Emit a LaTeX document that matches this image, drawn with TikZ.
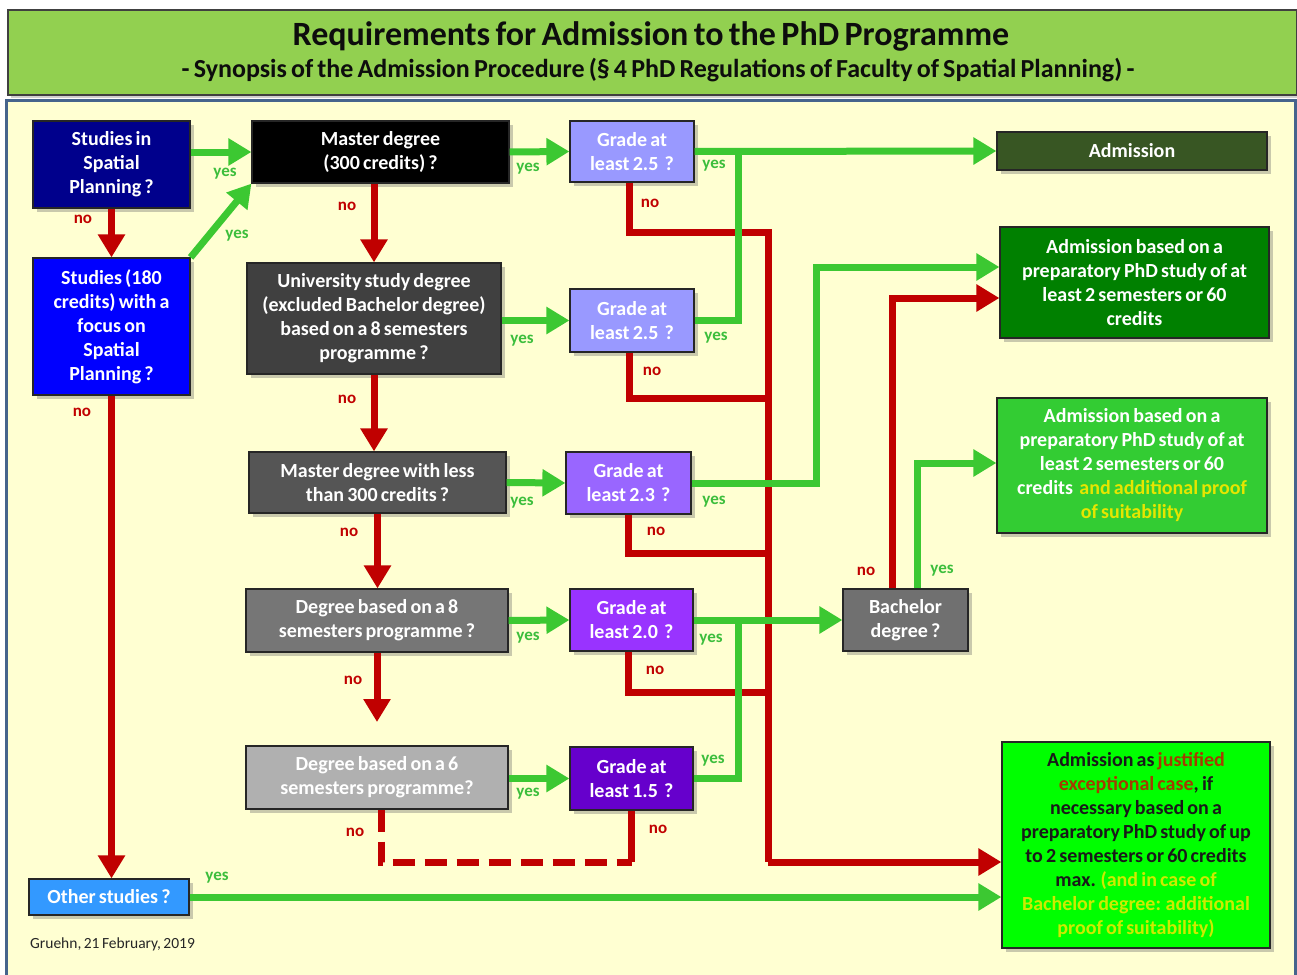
\documentclass[tikz,border=0pt]{standalone}
\usepackage{fontspec}
\setmainfont[WordSpace=0.7]{Carlito}
\usetikzlibrary{arrows.meta,shadows}
\definecolor{panelbg}{RGB}{255,255,210}
\definecolor{panelborder}{RGB}{70,100,140}
\definecolor{titlegreen}{RGB}{146,208,80}
\definecolor{agreen}{RGB}{60,200,50}
\definecolor{ared}{RGB}{192,0,0}
\definecolor{lblgreen}{RGB}{60,190,60}
\definecolor{c-s1}{RGB}{0,0,140}
\definecolor{c-s2}{RGB}{0,0,255}
\definecolor{c-m1}{RGB}{0,0,0}
\definecolor{c-u}{RGB}{64,64,64}
\definecolor{c-m2}{RGB}{85,85,85}
\definecolor{c-d8}{RGB}{118,118,118}
\definecolor{c-d6}{RGB}{176,176,176}
\definecolor{c-g1}{RGB}{153,153,255}
\definecolor{c-g3}{RGB}{153,102,255}
\definecolor{c-g4}{RGB}{153,51,255}
\definecolor{c-g5}{RGB}{102,0,204}
\definecolor{c-adm}{RGB}{56,86,35}
\definecolor{c-a2}{RGB}{0,128,0}
\definecolor{c-a3}{RGB}{51,204,51}
\definecolor{c-a4}{RGB}{0,255,0}
\definecolor{c-bach}{RGB}{112,112,112}
\definecolor{c-oth}{RGB}{51,153,255}
\definecolor{ylw}{RGB}{230,230,0}
\definecolor{ylw2}{RGB}{205,235,0}
\definecolor{jred}{RGB}{165,60,0}
\begin{document}
\begin{tikzpicture}[x=1pt,y=-1pt,
  box/.style={draw=black!85, line width=1.2pt, text=white, align=center,
    inner sep=1pt, font=\fontsize{20}{24}\selectfont\bfseries,
    drop shadow={shadow xshift=4pt, shadow yshift=-4pt, opacity=0.35, fill=black!60}},
  gl/.style={draw=agreen, line width=7pt},
  rl/.style={draw=ared, line width=7pt},
  gar/.style={gl, -{Triangle[length=23pt,width=26pt]}},
  rar/.style={rl, -{Triangle[length=23pt,width=26pt]}},
  yes/.style={text=lblgreen, font=\fontsize{17}{18}\selectfont\bfseries, inner sep=0pt},
  no/.style={text=ared, font=\fontsize{17}{18}\selectfont\bfseries, inner sep=0pt}
]
\useasboundingbox (0,0) rectangle (1297,974);
\begin{scope}
\clip (0,0) rectangle (1297,974);
% panel
\draw[fill=panelbg, draw=panelborder, line width=3pt] (6,100) rectangle (1295,980);
% title bar
\node[draw=black!75, line width=1.2pt, fill=titlegreen, minimum width=1289pt, minimum height=85pt,
  drop shadow={shadow xshift=3pt, shadow yshift=-3pt, opacity=0.3, fill=black!60}] (titlebox) at (652.5,52.5) {};
\end{scope}
\node[text=black!95, font=\fontsize{34}{36}\selectfont\bfseries] (title) at (651,36) {Requirements for Admission to the PhD Programme};
\node[text=black!95, font=\fontsize{26}{28}\selectfont\bfseries] (subtitle) at (658,70) {- Synopsis of the Admission Procedure (§ 4 PhD Regulations of Faculty of Spatial Planning) -};

% nodes
\node[box, fill=c-s1, minimum width=157pt, minimum height=87pt] (s1) at (111.5,164.5) {Studies in\\Spatial\\Planning ?};
\node[box, fill=c-s2, minimum width=157pt, minimum height=137pt] (s2) at (111.5,326.5) {Studies (180\\credits) with a\\focus on\\Spatial\\Planning ?};
\node[box, fill=c-m1, minimum width=257pt, minimum height=62pt] (m1) at (380.5,152) {Master degree\\(300 credits) ?};
\node[box, fill=c-u, minimum width=254pt, minimum height=111pt] (u) at (374,318.5) {University study degree\\(excluded Bachelor degree)\\based on a 8 semesters\\programme ?};
\node[box, fill=c-m2, minimum width=257pt, minimum height=61pt] (m2) at (377.5,482.5) {Master degree with less\\than 300 credits ?};
\node[box, fill=c-d8, minimum width=262pt, minimum height=63pt] (d8) at (377,620.5) {Degree based on a 8\\semesters programme ?};
\node[box, fill=c-d6, minimum width=262pt, minimum height=63pt] (d6) at (377,777.5) {Degree based on a 6\\semesters programme?};
\node[box, fill=c-g1, minimum width=124pt, minimum height=61pt] (g1) at (632,151.5) {Grade at\\least 2.5~~?};
\node[box, fill=c-g1, minimum width=124pt, minimum height=63pt] (g2) at (632,320.5) {Grade at\\least 2.5~~?};
\node[box, fill=c-g3, minimum width=125pt, minimum height=62pt] (g3) at (628.5,483) {Grade at\\least 2.3~~?};
\node[box, fill=c-g4, minimum width=123pt, minimum height=62pt] (g4) at (631.5,620) {Grade at\\least 2.0~~?};
\node[box, fill=c-g5, minimum width=123pt, minimum height=63pt] (g5) at (631.5,778.5) {Grade at\\least 1.5~~?};
\node[box, fill=c-adm, minimum width=270pt, minimum height=38pt] (adm) at (1132,151) {Admission};
\node[box, fill=c-a2, minimum width=269pt, minimum height=111pt] (a2) at (1134.5,282.5) {Admission based on a\\preparatory PhD study of at\\least 2 semesters or 60\\credits};
\node[box, fill=c-a3, minimum width=270pt, minimum height=135pt] (a3) at (1132,465.5) {Admission based on a\\preparatory PhD study of at\\least 2 semesters or 60\\credits~ \textcolor{ylw}{and additional proof}\\\textcolor{ylw}{of suitability}};
\node[box, fill=c-bach, minimum width=125pt, minimum height=62pt] (bach) at (905.5,620) {Bachelor\\degree ?};
\node[box, fill=c-a4, text=black!90, minimum width=268pt, minimum height=206pt] (a4) at (1136,845) {Admission as \textcolor{jred}{justified}\\\textcolor{jred}{exceptional case}, if\\necessary based on a\\preparatory PhD study of up\\to 2 semesters or 60 credits\\max. \textcolor{ylw2}{(and in case of}\\\textcolor{ylw2}{Bachelor degree: additional}\\\textcolor{ylw2}{proof of suitability)}};
\node[box, fill=c-oth, minimum width=160pt, minimum height=36pt] (oth) at (109,897) {Other studies ?};
\node[anchor=west, text=black!85, font=\fontsize{15.5}{17}\selectfont, inner sep=0pt] (foot) at (30,944) {Gruehn, 21 February, 2019};

% junction coordinates
\coordinate (j1) at (738,151.5);
\coordinate (j2) at (738,620);
\coordinate (j3) at (816,267);
\coordinate (j4) at (892,298);
\coordinate (j5) at (917,463);
\coordinate (bt) at (768,232);
\coordinate (b2) at (768,398);
\coordinate (b3) at (768,553);
\coordinate (b4) at (768,692);
\coordinate (bb) at (768,862);
\coordinate (d8end) at (377,722);

% red connectors (drawn first)
\draw[rl] ([xshift=-3pt]g1.south) |- (bt) -- (bb);
\draw[rl] ([xshift=-3pt]g2.south) |- (b2);
\draw[rl] (g3.south) |- (b3);
\draw[rl] ([xshift=-3pt]g4.south) |- (b4);
\draw[rl] (g5.south) -- (g5.south |- bb);
\draw[rl, dash pattern=on 22pt off 10pt] ([xshift=4pt]d6.south) |- (g5.south |- bb);
\draw[rar] (bb) -- (bb -| a4.west);
\draw[rar] (s1.south) -- (s2.north);
\draw[rar] (s2.south) -- (s2.south |- oth.north);
\draw[rar] (u.north |- m1.south) -- (u.north);
\draw[rar] (u.south) -- (u.south |- m2.north);
\draw[rar] (m2.south) -- (m2.south |- d8.north);
\draw[rar] (d8.south) -- (d8end);
\draw[rar] (bach.north -| j4) -- (j4) -- (j4 -| a2.west);

% green connectors
\draw[gar] (s1.east |- m1.west) -- (m1.west);
\draw[gar] (s2.north east) -- (m1.south west);
\draw[gar] (m1.east) -- (g1.west);
\draw[gar] (g1.east) -- (adm.west);
\draw[gl] (g2.east) -| (j1);
\draw[gar] (u.east |- g2.west) -- (g2.west);
\draw[gar] (m2.east) -- (g3.west);
\draw[gar] (g3.east) -| (j3) -- (j3 -| a2.west);
\draw[gar] (d8.east) -- (g4.west);
\draw[gar] (d6.east |- g5.west) -- (g5.west);
\draw[gar] (g4.east) -- (bach.west);
\draw[gl] (g5.east) -| (j2);
\draw[gar] (bach.north -| j5) -- (j5) -- (j5 -| a3.west);
\draw[gar] (oth.east) -- (oth.east -| a4.west);

% labels
\node[yes] (l1) at (225,174) {yes};
\node[no] (l2) at (83,219) {no};
\node[yes] (l3) at (237,236) {yes};
\node[no] (l4) at (82,412) {no};
\node[yes] (l5) at (528,169) {yes};
\node[no] (l6) at (347,206) {no};
\node[yes] (l7) at (714,166) {yes};
\node[no] (l8) at (650,203) {no};
\node[yes] (l9) at (522,341) {yes};
\node[yes] (l10) at (716,338) {yes};
\node[no] (l11) at (652,371) {no};
\node[no] (l12) at (347,399) {no};
\node[yes] (l13) at (522,503) {yes};
\node[yes] (l14) at (714,502) {yes};
\node[no] (l15) at (656,531) {no};
\node[no] (l16) at (349,532) {no};
\node[yes] (l17) at (528,638) {yes};
\node[yes] (l18) at (711,640) {yes};
\node[no] (l19) at (655,670) {no};
\node[no] (l20) at (353,680) {no};
\node[no] (l21) at (866,571) {no};
\node[yes] (l22) at (942,571) {yes};
\node[yes] (l23) at (713,761) {yes};
\node[yes] (l24) at (528,794) {yes};
\node[no] (l25) at (658,829) {no};
\node[no] (l26) at (355,832) {no};
\node[yes] (l27) at (217,878) {yes};
\end{tikzpicture}
\end{document}
